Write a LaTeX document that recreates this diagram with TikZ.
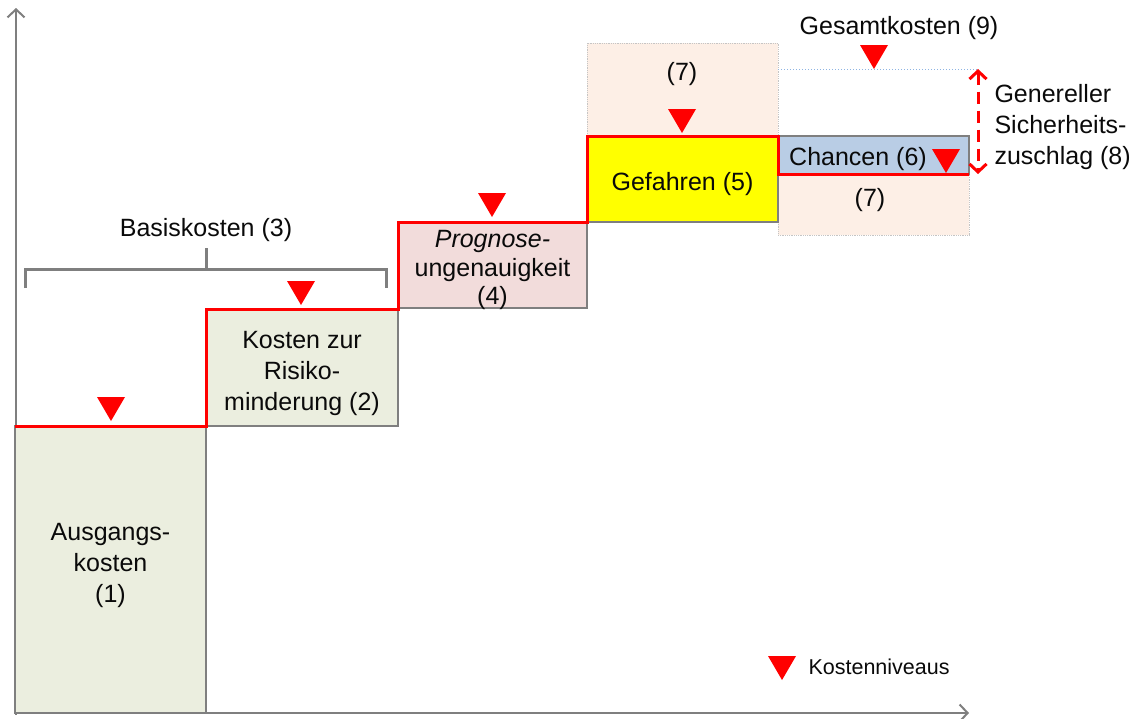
\documentclass[tikz,border=0pt]{standalone}
\usepackage{fontspec}
\setmainfont{Liberation Sans}
\usetikzlibrary{arrows.meta,positioning}
\definecolor{costInk}{HTML}{0A0A0A}
\definecolor{costRed}{HTML}{FF0000}
\definecolor{costGray}{HTML}{7F7F7F}
\definecolor{costOlive}{HTML}{EBEEDF}
\definecolor{costRose}{HTML}{F2DCDB}
\definecolor{costYellow}{HTML}{FFFF00}
\definecolor{costBlue}{HTML}{B9CDE5}
\definecolor{costPeach}{HTML}{FDEFE6}
\definecolor{costDots}{HTML}{8EB4E3}
\tikzset{
  every picture/.style={font=\fontsize{25}{31}\selectfont, text=costInk},
  cost box/.style={draw=costGray, line width=1.5pt, anchor=north west,
    outer sep=0pt, inner sep=0pt},
  cost text/.style={align=center, inner sep=0pt},
  cost reserve/.style={fill=costPeach, draw=costGray!45, line width=0.8pt,
    densely dotted, anchor=north west, outer sep=0pt},
  cost step/.style={draw=costRed, line width=3pt, line join=miter},
  cost axis/.style={draw=costGray, line width=2pt,
    -{Straight Barb[length=8pt,width=17pt]}},
  cost brace/.style={draw=costGray, line width=3pt},
  cost range/.style={draw=costRed, line width=3pt, dash pattern=on 12pt off 7pt,
    {Straight Barb[length=8pt,width=17pt]}-{Straight Barb[length=8pt,width=17pt]}},
  cost guide/.style={draw=costDots, line width=1pt, dotted}
}
\newcommand\costmark[1]{\fill[costRed] (#1) -- ++(-14,-24) -- ++(28,0) -- cycle;}

\begin{document}
\begin{tikzpicture}[x=1pt,y=-1pt]
  \useasboundingbox (0,0) rectangle (1139,718);
  % axes
  \coordinate (origin) at (15,713);
  \coordinate (yend) at (16,8);
  \coordinate (xend) at (969,713);
  \draw[cost axis] (origin -| yend) ++(0,2) -- (yend);
  \draw[cost axis] (origin) -- (xend);
  % reserves (7)
  \node[cost reserve, minimum width=191pt, minimum height=93pt] (reserveA) at (587,43) {};
  \node[cost reserve, minimum width=191pt, minimum height=99pt] (reserveB) at (778,136) {};
  % cost blocks
  \node[cost box, fill=costOlive, minimum width=191pt, minimum height=287pt] (start) at (15,426) {};
  \node[cost box, fill=costOlive, minimum width=192pt, minimum height=117pt] (riskred) at (206,309) {};
  \node[cost box, fill=costRose, minimum width=189pt, minimum height=86pt] (prognosis) at (398,222) {};
  \node[cost box, fill=costYellow, minimum width=191pt, minimum height=86pt] (hazard) at (587,136) {};
  \node[cost box, fill=costBlue, minimum width=191pt, minimum height=38pt] (chance) at (778,136) {};
  % cost level line
  \draw[cost step] (start.north west) -- (start.north east) -- (riskred.north west)
    -- (riskred.north east) -- (prognosis.north west) -- (prognosis.north east)
    -- (hazard.north west) -- (hazard.north east) -- (chance.south west) -- (chance.south east);
  % total and safety margin
  \coordinate (total) at (978,69);
  \draw[cost guide] (reserveA.east |- total) -- (total);
  \draw[cost range] (total) -- (total |- chance.south);
  % base costs bracket
  \draw[cost brace] (25,288) -- (25,269) -- (386,269) -- (386,288);
  \draw[cost brace] (206,269) -- (206,248);
  % markers
  \foreach \p in {{111,421},{301,305},{492,217},{682,133},{874,69},{946,173},{782,680}}
    \costmark{\p};
  % labels
  \node[cost text] (startlabel) at ([yshift=4pt]start.center) {Ausgangs-\\kosten\\(1)};
  \node[cost text] (riskredlabel) at ([yshift=-6pt]riskred.center) {Kosten zur\\Risiko-\\minderung (2)};
  \node[cost text, font=\fontsize{25}{28.5}\selectfont] (prognosislabel)
    at ([yshift=-5pt]prognosis.center) {\textit{Prognose-}\\ungenauigkeit\\(4)};
  \node[cost text] (hazardlabel) at ([yshift=-5pt]hazard.center) {Gefahren (5)};
  \node (basis) at (206,230) {Basiskosten (3)};
  \node (reserveAlabel) at (682,74) {(7)};
  \node (reserveBlabel) at (870,200) {(7)};
  \node (chancelabel) at (858,159) {Chancen (6)};
  \node (totallabel) at (899,28) {Gesamtkosten (9)};
  \node[anchor=west, align=left] (margin) at (991,127) {Genereller\\Sicherheits-\\zuschlag (8)};
  \node[anchor=west, font=\fontsize{21.5}{26}\selectfont] (legend) at (805,667) {Kostenniveaus};
\end{tikzpicture}
\end{document}
